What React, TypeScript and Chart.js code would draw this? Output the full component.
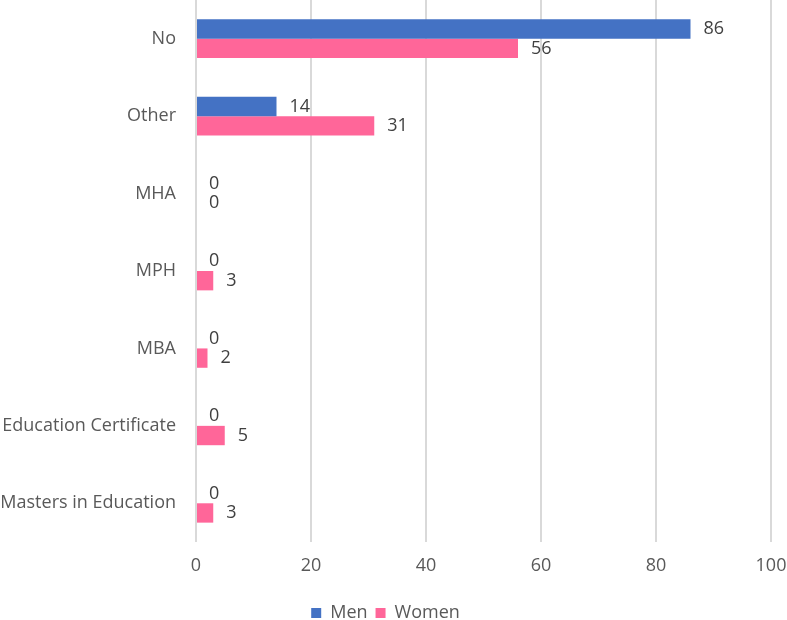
import React, { useEffect, useRef } from "react";
import { Chart, registerables } from "chart.js";

Chart.register(...registerables);

const categories = ["No", "Other", "MHA", "MPH", "MBA", "Education Certificate", "Masters in Education"];
const menValues = [86, 14, 0, 0, 0, 0, 0];
const womenValues = [56, 31, 0, 3, 2, 5, 3];
const xTicks = [0, 20, 40, 60, 80, 100];

const FONT = "'Open Sans', 'Noto Sans', sans-serif";
const TEXT = "#595959";
const SIZE = 18;

const valueLabels = {
  id: "valueLabels",
  afterDatasetsDraw(chart: any) {
    const ctx = chart.ctx;
    ctx.save();
    ctx.font = `${SIZE}px ${FONT}`;
    ctx.fillStyle = "#404040";
    ctx.textAlign = "left";
    ctx.textBaseline = "middle";
    chart.data.datasets.forEach((ds: any, di: number) => {
      const meta = chart.getDatasetMeta(di);
      meta.data.forEach((el: any, i: number) => {
        ctx.fillText(String(ds.data[i]), el.x + 13, el.y);
      });
    });
    ctx.restore();
  },
};

const legendHeight = {
  id: "legendHeight",
  afterInit(chart: any) {
    const lg = chart.legend;
    if (!lg) return;
    const orig = lg.fit.bind(lg);
    lg.fit = () => {
      orig();
      lg.height = 24;
    };
  },
};

export default function App() {
  const ref = useRef<HTMLCanvasElement>(null);
  useEffect(() => {
    document.body.style.margin = "0";
    const chart = new Chart(ref.current!, {
      type: "bar",
      data: {
        labels: categories,
        datasets: [
          { label: "Men", data: menValues, backgroundColor: "#4472C4", categoryPercentage: 0.5, barPercentage: 1 },
          { label: "Women", data: womenValues, backgroundColor: "#FF6699", categoryPercentage: 0.5, barPercentage: 1 },
        ],
      },
      options: {
        indexAxis: "y",
        animation: false,
        responsive: false,
        layout: { padding: { top: 0, right: 16, left: 0, bottom: 0 } },
        scales: {
          x: {
            min: 0,
            max: 100,
            afterBuildTicks: (s: any) => { s.ticks = xTicks.map((v) => ({ value: v })); },
            afterFit: (s: any) => {
              s.height = 54;
              s.paddingLeft = 0; s.paddingRight = 0; s.paddingTop = 0; s.paddingBottom = 0;
            },
            grid: { color: "#D9D9D9", lineWidth: 2, drawTicks: false },
            border: { display: false },
            ticks: { font: { family: FONT, size: SIZE }, color: TEXT, padding: 13 },
          },
          y: {
            afterFit: (s: any) => {
              s.width = 196;
              s.paddingLeft = 0; s.paddingRight = 0; s.paddingTop = 0; s.paddingBottom = 0;
            },
            grid: { display: false, drawTicks: false },
            border: { display: false },
            ticks: { font: { family: FONT, size: SIZE }, color: TEXT, padding: 20 },
          },
        },
        plugins: {
          tooltip: { enabled: false },
          legend: {
            position: "bottom",
            labels: { boxWidth: 10, boxHeight: 10, font: { family: FONT, size: SIZE }, color: TEXT, padding: 8 },
          },
        },
      },
      plugins: [valueLabels, legendHeight],
    });
    return () => chart.destroy();
  }, []);
  return (
    <div style={{ width: 787, height: 620 }}>
      <canvas ref={ref} width={787} height={620} />
    </div>
  );
}
